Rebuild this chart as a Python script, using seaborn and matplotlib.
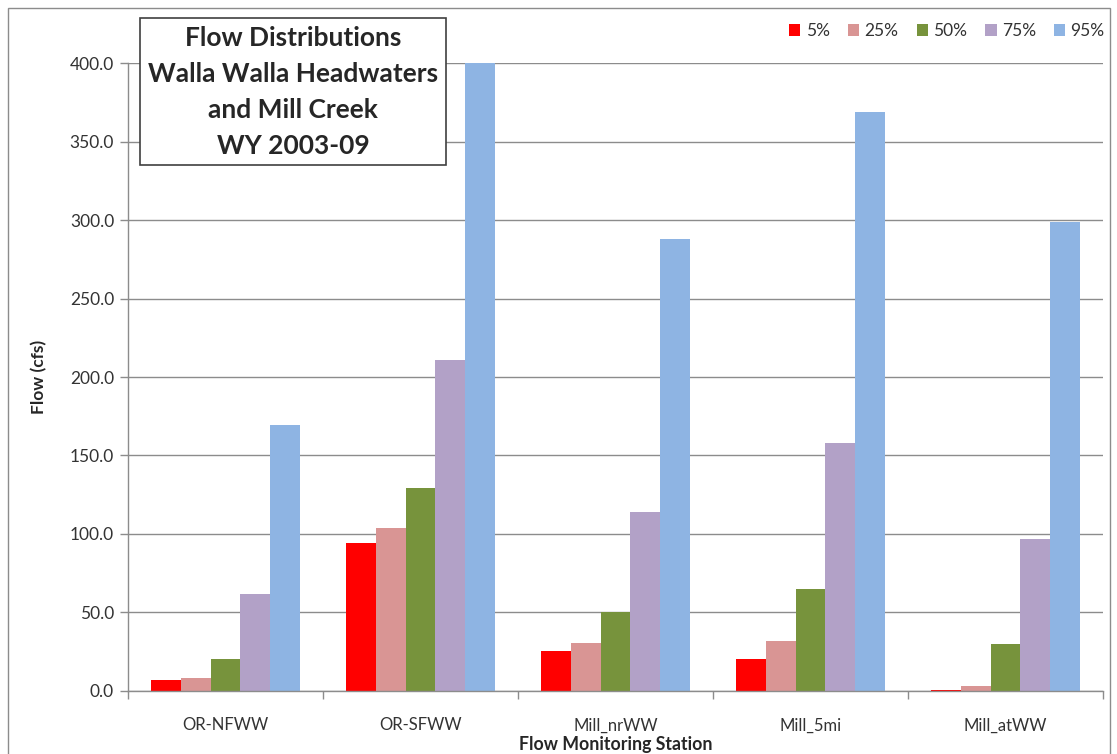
import matplotlib
matplotlib.use("Agg")
import matplotlib.pyplot as plt
import pandas as pd
import seaborn as sns
from matplotlib.patches import Rectangle
from matplotlib.ticker import FixedLocator, FormatStrFormatter

stations = ["OR-NFWW", "OR-SFWW", "Mill_nrWW", "Mill_5mi", "Mill_atWW"]
percentiles = ["5%", "25%", "50%", "75%", "95%"]
flow_p05 = [7.0, 94.0, 25.5, 20.5, 0.8]
flow_p25 = [8.0, 104.0, 30.5, 32.0, 3.2]
flow_p50 = [20.5, 129.0, 50.0, 65.0, 30.0]
flow_p75 = [62.0, 211.0, 114.0, 158.0, 97.0]
flow_p95 = [169.5, 400.0, 288.0, 368.5, 299.0]
colors = ["#FF0000", "#D99594", "#77933C", "#B2A1C7", "#8EB4E3"]
title = "Flow Distributions\nWalla Walla Headwaters\nand Mill Creek\nWY 2003-09"

sns.set_style("white")
plt.rcParams["font.family"] = ["Lato", "DejaVu Sans"]

# long table for seaborn
rows = []
for pct, vals in zip(percentiles, [flow_p05, flow_p25, flow_p50, flow_p75, flow_p95]):
    for st, v in zip(stations, vals):
        rows.append({"station": st, "pct": pct, "flow": v})
df = pd.DataFrame(rows)

fig = plt.figure(figsize=(11.17, 7.54), dpi=100)
ax = fig.add_axes([0.1146, 0.0836, 0.9875 - 0.1146, 0.9164 - 0.0836])
sns.barplot(data=df, x="station", y="flow", hue="pct", order=stations,
            hue_order=percentiles, palette=colors, saturation=1,
            width=0.76, ax=ax, linewidth=0, errorbar=None)

ax.set_ylim(0, 400)
ax.set_xlim(-0.5, len(stations) - 0.5)
ax.yaxis.set_major_locator(FixedLocator([0, 50, 100, 150, 200, 250, 300, 350, 400]))
ax.yaxis.set_major_formatter(FormatStrFormatter("%.1f"))
ax.yaxis.grid(True, color="#8C8C8C", linewidth=1)
ax.set_axisbelow(True)

# category labels on minor ticks, boundary tick marks on major
ax.xaxis.set_major_locator(FixedLocator([i - 0.5 for i in range(len(stations) + 1)]))
ax.xaxis.set_major_formatter(plt.NullFormatter())
ax.xaxis.set_minor_locator(FixedLocator(range(len(stations))))
ax.set_xticks(range(len(stations)), labels=stations, minor=True)
ax.tick_params(axis="x", which="major", length=6, width=1, color="#8C8C8C",
               direction="out", bottom=True)
ax.tick_params(axis="x", which="minor", length=0, pad=19, labelsize=12,
               labelcolor="#333333")
ax.tick_params(axis="y", length=6, width=1, color="#8C8C8C", direction="out",
               left=True, labelsize=12.5, labelcolor="#333333", pad=4)

for side in ["top", "right"]:
    ax.spines[side].set_visible(False)
for side in ["left", "bottom"]:
    ax.spines[side].set_color("#8C8C8C")
    ax.spines[side].set_linewidth(1)

ax.set_xlabel("Flow Monitoring Station", fontsize=12.8, fontweight="bold",
              labelpad=2)
ax.set_ylabel("Flow (cfs)", fontsize=12.5, fontweight="bold", labelpad=16)

ax.legend(ncol=5, frameon=False, loc="upper right",
          bbox_to_anchor=(1.003, 0.99), bbox_transform=fig.transFigure,
          fontsize=12.5, handlelength=0.65, handleheight=0.65,
          handletextpad=0.3, columnspacing=1.05, labelcolor="#333333")

fig.text(0.2623, 0.8786, title, ha="center", va="center", fontsize=19,
         fontweight="bold", linespacing=1.6,
         bbox=dict(boxstyle="square,pad=0.3", facecolor="white",
                   edgecolor="#404040", linewidth=1.2))

# outer chart border
fig.patches.append(Rectangle((8 / 1117, -0.02), 1102 / 1117, 1.02 - 8 / 754,
                             transform=fig.transFigure, fill=False,
                             edgecolor="#8C8C8C", linewidth=1))

fig.savefig("out.png", dpi=100)
plt.close(fig)
